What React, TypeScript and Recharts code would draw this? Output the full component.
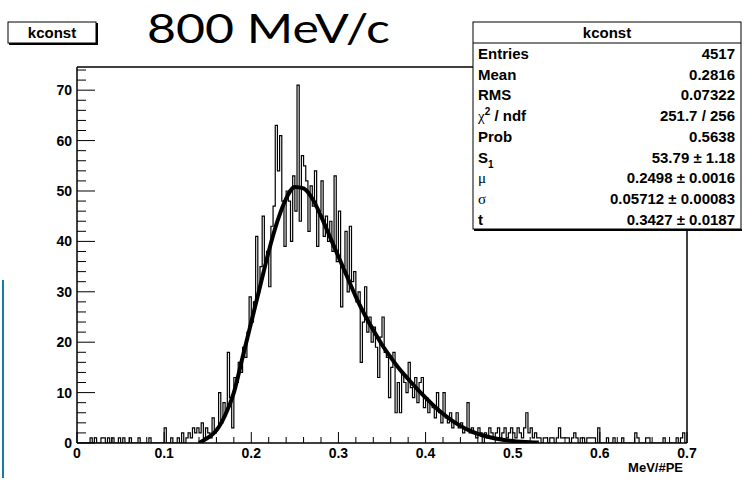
import { LineChart, Line, XAxis, YAxis, ReferenceLine } from 'recharts';

// histogram of kconst, bins 0.0025 wide starting at 0
const BIN_WIDTH = 0.0025;

const countsLow = [
  0, 0, 0, 0, 0, 0,
  1, 0, 1, 0, 0, 1, 1, 0, 1, 0,
  1, 0, 0, 1, 0, 1, 0, 0, 1, 0,
  0, 0, 1, 0, 0, 0, 0, 1, 0, 0,
  0, 0, 0, 0, 3, 0, 0, 1, 0, 0,
  1, 0, 2, 0, 1, 2, 1, 3, 2, 3,
];
const countsRise = [
  2, 4, 1, 3, 2, 1, 5, 2, 3, 10,
  4, 8, 6, 18, 9, 3, 13, 12, 16, 14,
  19, 17, 22, 29, 24, 28, 41, 30, 35, 45,
  36, 38, 31, 43, 47, 63, 54, 61, 48, 39,
  50, 48, 40, 53,
];
const countsFall = [
  46, 71, 44, 57, 55, 52, 42, 51, 47, 54,
  39, 46, 52, 41, 45, 40, 44, 38, 53, 36,
  46, 27, 35, 42, 30, 43, 32, 34, 28, 30,
  16, 24, 31, 22, 25, 20, 23, 19, 13, 21,
  25, 18, 17, 9, 15, 18, 6, 12, 6, 14,
  12, 10, 16, 11, 9, 13, 8, 12, 13, 7,
  9, 6, 8, 7, 5, 10, 6, 4,
];
const countsTail = [
  10, 5, 4, 6, 3, 4, 6, 3, 4, 2,
  3, 8, 2, 3, 2, 1, 3, 2, 0, 2,
  1, 3, 2, 1, 2, 3, 1, 2, 3, 1,
  2, 3, 2, 1, 3, 2, 1, 3, 6, 2,
  3, 1, 2, 1,
];
const countsFlat = [
  1, 0, 1, 1, 0, 1, 1, 0, 1, 3,
  1, 1, 1, 1, 0, 1, 2, 1, 0, 1,
  1, 0, 1, 1, 1, 1, 0, 3, 0, 0,
  0, 1, 0, 0, 1, 0, 0, 0, 1, 0,
  0, 0, 0, 0, 2, 1, 0, 0, 0, 1,
  1, 0, 0, 0, 0, 0, 0, 1, 0, 0,
  0, 0, 0, 1, 0, 1, 2, 0,
];

// fitted curve, read every 0.01 from 0.14
const fitStart = 0.14;
const fitY = [
  0, 1, 2.5, 5.5, 10, 17, 24, 31, 38, 44,
  48.5, 50.8, 50.5, 48.5, 45, 41, 37, 33, 29, 25.5,
  22.4, 19.5, 17, 14.7, 12.7, 10.8, 9, 7.3, 5.8, 4.5,
  3.4, 2.5, 1.8, 1.3, 0.9, 0.6, 0.4, 0.25, 0.15, 0.1,
];

const xTicks = Array.from({ length: 36 }, (_, i) => +(i * 0.02).toFixed(2));
const yTicks = Array.from({ length: 38 }, (_, i) => i * 2);

const statRows = [
  ['Entries', '4517'],
  ['Mean', '0.2816'],
  ['RMS', '0.07322'],
  ['chi', '251.7 / 256'],
  ['Prob', '0.5638'],
  ['S1', '53.79 \u00b1 1.18'],
  ['\u03bc', '0.2498 \u00b1 0.0016'],
  ['\u03c3', '0.05712 \u00b1 0.00083'],
  ['t', '0.3427 \u00b1 0.0187'],
];

const counts = [...countsLow, ...countsRise, ...countsFall, ...countsTail, ...countsFlat];
const fitFirst = Math.round(fitStart / BIN_WIDTH);

const rows: { x: number; n: number; f?: number }[] = counts.map((n, i) => ({
  x: +(i * BIN_WIDTH).toFixed(4),
  n,
}));
fitY.forEach((f, j) => {
  rows[fitFirst + j * 4].f = f;
});
rows.push({ x: 0.7, n: counts[counts.length - 1] });

const FONT = '"Liberation Sans", Arial, sans-serif';
const SERIF = '"Liberation Serif", serif';

const XTick = (props: any) => {
  const { x, y, payload } = props;
  const v = payload.value;
  const major = Math.round(v * 100) % 10 === 0;
  return (
    <g>
      <line x1={x} x2={x} y1={y} y2={y - (major ? 11 : 6)} stroke="#000" />
      {major && (
        <text x={x} y={y + 15} textAnchor="middle" fontFamily={FONT} fontWeight="bold" fontSize={14} fill="#000">
          {v === 0 ? '0' : v.toFixed(1)}
        </text>
      )}
    </g>
  );
};

const YTick = (props: any) => {
  const { x, y, payload } = props;
  const v = payload.value;
  const major = v % 10 === 0;
  return (
    <g>
      <line x1={x} x2={x + (major ? 18 : 9)} y1={y} y2={y} stroke="#000" />
      {major && (
        <text x={x - 5} y={y + 5} textAnchor="end" fontFamily={FONT} fontWeight="bold" fontSize={14} fill="#000">
          {v}
        </text>
      )}
    </g>
  );
};

const StatLabel = ({ name, y }: { name: string; y: number }) => {
  if (name === 'chi')
    return (
      <text x={478} y={y} fontFamily={FONT} fontWeight="bold" fontSize={15} fill="#000">
        <tspan fontFamily={SERIF} fontWeight="normal">{'\u03c7'}</tspan>
        <tspan fontSize={10} dy={-6}>2</tspan>
        <tspan dy={6}> / ndf</tspan>
      </text>
    );
  if (name === 'S1')
    return (
      <text x={478} y={y} fontFamily={FONT} fontWeight="bold" fontSize={15} fill="#000">
        S<tspan fontSize={10} dy={5}>1</tspan>
      </text>
    );
  const greek = name === '\u03bc' || name === '\u03c3';
  return (
    <text
      x={478}
      y={y}
      fontFamily={greek ? SERIF : FONT}
      fontWeight={greek ? 'normal' : 'bold'}
      fontSize={15}
      fill="#000"
    >
      {name}
    </text>
  );
};

export default function App() {
  return (
    <div style={{ position: 'absolute', left: 0, top: 0, width: 744, height: 481, background: '#fff' }}>
      <LineChart width={744} height={481} data={rows} margin={{ top: 67, right: 57, bottom: 0, left: 0 }}>
        <XAxis
          dataKey="x"
          type="number"
          domain={[0, 0.7]}
          ticks={xTicks}
          interval={0}
          height={38}
          tickSize={0}
          tickMargin={0}
          tickLine={false}
          tick={XTick}
          axisLine={{ stroke: '#000', strokeWidth: 1.5 }}
          allowDataOverflow
        />
        <YAxis
          type="number"
          domain={[0, 74.6]}
          ticks={yTicks}
          interval={0}
          width={77}
          tickSize={0}
          tickMargin={0}
          tickLine={false}
          tick={YTick}
          axisLine={{ stroke: '#000', strokeWidth: 1.5 }}
          allowDataOverflow
        />
        <ReferenceLine y={74.6} stroke="#000" strokeWidth={1.5} />
        <ReferenceLine x={0.7} stroke="#000" strokeWidth={1.5} />
        <Line dataKey="n" type="stepAfter" stroke="#000" strokeWidth={1.2} dot={false} isAnimationActive={false} />
        <Line
          dataKey="f"
          type="monotone"
          stroke="#000"
          strokeWidth={4}
          dot={false}
          connectNulls
          isAnimationActive={false}
        />
      </LineChart>
      <svg width={744} height={481} style={{ position: 'absolute', left: 0, top: 0, pointerEvents: 'none' }}>
        <rect x={2} y={280} width={2} height={198} fill="#157c9c" />
        <text x={147} y={43} fontFamily="Lato, sans-serif" fontSize={40} textLength={243} lengthAdjust="spacingAndGlyphs" fill="#000">
          800 MeV/c
        </text>
        {/* small title box */}
        <rect x={8} y={22} width={88} height={21} fill="#fff" stroke="#000" />
        <line x1={9} x2={98} y1={44} y2={44} stroke="#000" strokeWidth={2} />
        <line x1={97} x2={97} y1={23} y2={45} stroke="#000" strokeWidth={2} />
        <text x={52} y={38} textAnchor="middle" fontFamily={FONT} fontWeight="bold" fontSize={15} fill="#000">
          kconst
        </text>
        {/* stats box */}
        <rect x={473} y={22} width={268} height={207} fill="#fff" stroke="#000" />
        <line x1={474} x2={742} y1={230} y2={230} stroke="#000" strokeWidth={2} />
        <line x1={473} x2={741} y1={43} y2={43} stroke="#000" />
        <text x={607} y={38} textAnchor="middle" fontFamily={FONT} fontWeight="bold" fontSize={15} fill="#000">
          kconst
        </text>
        {statRows.map(([name, val], i) => {
          const y = 59 + i * 20.7;
          return (
            <g key={name}>
              <StatLabel name={name} y={y} />
              <text x={735} y={y} textAnchor="end" fontFamily={FONT} fontWeight="bold" fontSize={15} fill="#000">
                {val}
              </text>
            </g>
          );
        })}
        <text x={683} y={472} textAnchor="end" fontFamily={FONT} fontWeight="bold" fontSize={13} fill="#000">
          MeV/#PE
        </text>
      </svg>
    </div>
  );
}
